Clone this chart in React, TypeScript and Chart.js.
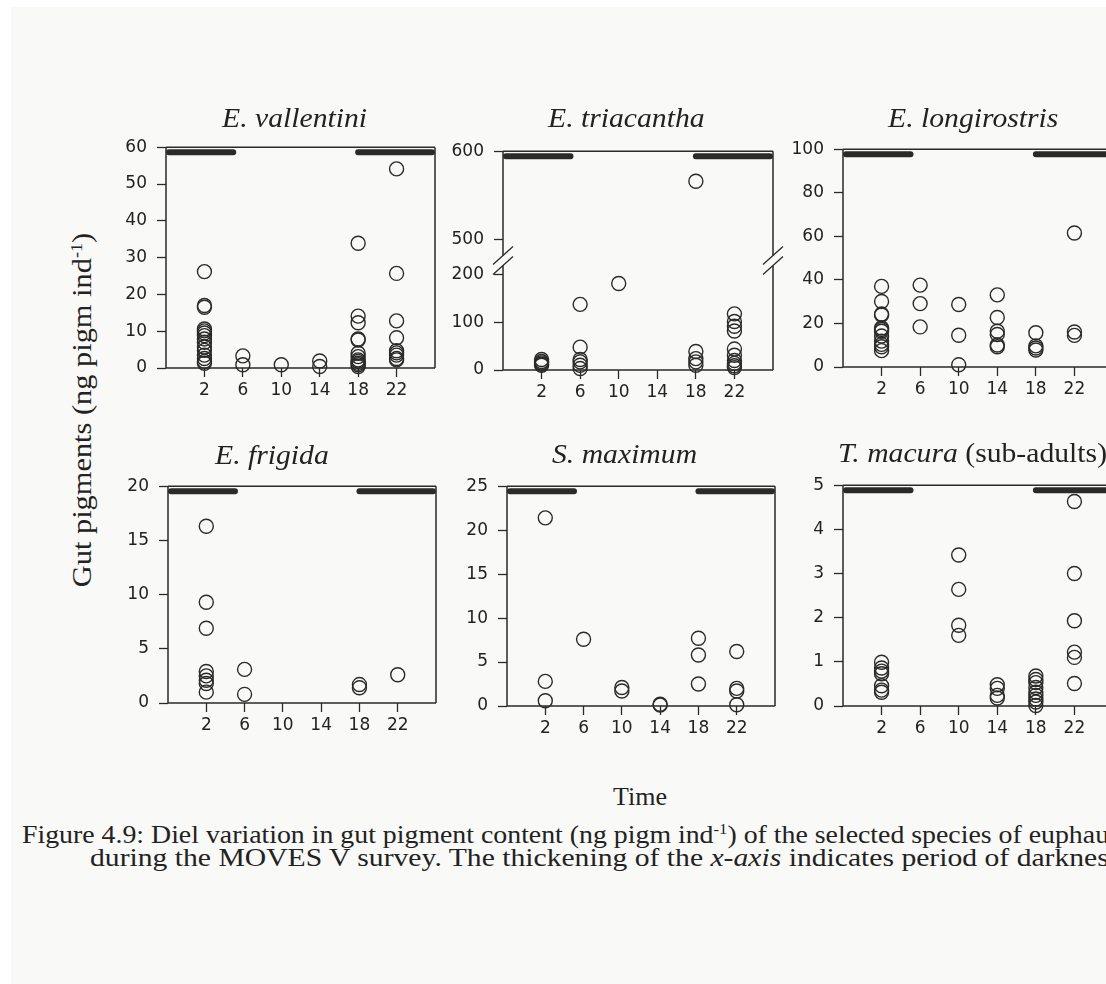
import React, { useEffect, useRef } from "react";
import { Chart, registerables } from "chart.js";

Chart.register(...registerables);

// ---------- data ----------
const hourTicks = [2, 6, 10, 14, 18, 22];
const hourMin = -2;
const hourMax = 26;
const nightStart = [-2, 18];
const nightEnd = [5, 26];

const vallentiniHour = [2, 2, 2, 2, 2, 2, 2, 2, 2, 2, 2, 2, 2, 2, 2, 6, 6, 10, 14, 14, 18, 18, 18, 18, 18, 18, 18, 18, 18, 18, 18, 18, 22, 22, 22, 22, 22, 22, 22, 22, 22];
const vallentiniGut = [26.2, 17.0, 16.5, 10.6, 10.1, 9.5, 8.8, 7.9, 7.0, 5.7, 4.8, 3.5, 2.6, 1.8, 1.3, 3.3, 0.9, 0.9, 1.9, 0.4, 33.9, 14.1, 12.3, 7.9, 7.6, 4.0, 3.1, 2.2, 1.8, 1.3, 0.9, 0.4, 54.1, 25.7, 12.8, 8.2, 4.7, 4.1, 3.5, 2.6, 2.2];
const vallentiniTicks = [0, 10, 20, 30, 40, 50, 60];

const triacanthaHour = [2, 2, 2, 2, 2, 6, 6, 6, 6, 6, 6, 10, 18, 18, 18, 18, 18, 22, 22, 22, 22, 22, 22, 22, 22, 22, 22];
const triacanthaGut = [22, 18, 15, 12, 10, 138, 48, 22, 17, 10, 3, 182, 566, 39, 24, 17, 10, 118, 102, 92, 82, 44, 31, 20, 14, 9, 5];
const triacanthaLowTicks = [0, 100, 200];
const triacanthaHighTicks = [500, 600];
const triacanthaLowRange = [0, 230];
const triacanthaHighRange = [476, 600];

const longirostrisHour = [2, 2, 2, 2, 2, 2, 2, 2, 2, 2, 2, 2, 6, 6, 6, 10, 10, 10, 14, 14, 14, 14, 14, 14, 18, 18, 18, 18, 22, 22, 22];
const longirostrisGut = [37, 30.1, 24.3, 23.9, 17.9, 17.2, 16.4, 14.2, 11.9, 10.4, 9.3, 7.5, 37.6, 29.1, 18.4, 28.7, 14.6, 1.0, 33.1, 22.7, 16.4, 14.9, 10.1, 9.3, 15.7, 9.7, 8.7, 7.8, 61.5, 16.1, 14.5];
const longirostrisTicks = [0, 20, 40, 60, 80, 100];

const frigidaHour = [2, 2, 2, 2, 2, 2, 2, 2, 6, 6, 18, 18, 22];
const frigidaGut = [16.3, 9.3, 6.9, 2.9, 2.5, 2.1, 1.8, 1.0, 3.1, 0.8, 1.7, 1.4, 2.6];
const frigidaTicks = [0, 5, 10, 15, 20];

const maximumHour = [2, 2, 2, 6, 10, 10, 14, 14, 18, 18, 18, 22, 22, 22, 22];
const maximumGut = [21.4, 2.8, 0.6, 7.6, 2.1, 1.7, 0.2, 0.1, 7.7, 5.8, 2.5, 6.2, 2.0, 1.7, 0.15];
const maximumTicks = [0, 5, 10, 15, 20, 25];

const macuraHour = [2, 2, 2, 2, 2, 2, 2, 10, 10, 10, 10, 14, 14, 14, 14, 18, 18, 18, 18, 18, 18, 18, 18, 18, 22, 22, 22, 22, 22, 22];
const macuraGut = [0.99, 0.86, 0.79, 0.73, 0.46, 0.36, 0.31, 3.42, 2.64, 1.83, 1.6, 0.48, 0.4, 0.24, 0.18, 0.68, 0.6, 0.53, 0.42, 0.31, 0.24, 0.16, 0.09, 0.01, 4.63, 3.0, 1.93, 1.22, 1.1, 0.51];
const macuraTicks = [0, 1, 2, 3, 4, 5];

// ---------- style / layout ----------
const INK = "#2a2a2a";
const TEXT = "#222";
const BG = "#f9f9f7";
const AX_W = 60;
const AX_H = 40;
const PAD_T = 14;
const PAD_R = 12;
const TICK_FONT = { family: "'DejaVu Sans', 'Liberation Sans', sans-serif", size: 17 };
const SERIF = "'Liberation Serif', 'Times New Roman', serif";

const toPoints = (hours: number[], gut: number[], keep?: (v: number) => boolean) =>
  hours
    .map((h, i) => ({ x: h, y: gut[i] }))
    .filter((p) => (keep ? keep(p.y) : true));

const framePlugin = {
  id: "frame",
  beforeDatasetsDraw(chart: any, _args: any, opts: any) {
    const { ctx, chartArea: a, scales } = chart;
    const brk = opts && opts.broken ? scales.yLow.top : null;
    ctx.save();
    ctx.strokeStyle = INK;
    ctx.lineWidth = 1.5;
    ctx.lineCap = "butt";
    ctx.beginPath();
    ctx.moveTo(a.left, a.top);
    ctx.lineTo(a.right, a.top);
    ctx.moveTo(a.left, a.bottom);
    ctx.lineTo(a.right, a.bottom);
    for (const x of [a.left, a.right]) {
      if (brk == null) {
        ctx.moveTo(x, a.top);
        ctx.lineTo(x, a.bottom);
      } else {
        ctx.moveTo(x, a.top);
        ctx.lineTo(x, brk - 5);
        ctx.moveTo(x, brk + 5);
        ctx.lineTo(x, a.bottom);
      }
    }
    ctx.stroke();
    if (brk != null) {
      ctx.lineWidth = 1.3;
      ctx.beginPath();
      for (const x of [a.left, a.right]) {
        for (const dy of [-5, 5]) {
          ctx.moveTo(x - 10, brk + dy + 9);
          ctx.lineTo(x + 10, brk + dy - 9);
        }
      }
      ctx.stroke();
    }
    const xs = scales.x;
    ctx.lineWidth = 6;
    ctx.lineCap = "round";
    ctx.beginPath();
    nightStart.forEach((s, i) => {
      const x0 = Math.max(xs.getPixelForValue(s), a.left + 3);
      const x1 = Math.min(xs.getPixelForValue(nightEnd[i]), a.right - 3);
      ctx.moveTo(x0, a.top + 5);
      ctx.lineTo(x1, a.top + 5);
    });
    ctx.stroke();
    ctx.restore();
  },
};

const gridOpts = {
  display: true,
  drawOnChartArea: false,
  drawTicks: true,
  tickLength: 9,
  tickWidth: 1.3,
  tickColor: INK,
};

function yScale(ticks: number[], min: number, max: number, extra: any = {}) {
  return {
    type: "linear",
    position: "left",
    min,
    max,
    afterBuildTicks: (s: any) => {
      s.ticks = ticks.map((v) => ({ value: v }));
    },
    afterFit: (s: any) => {
      s.width = AX_W;
    },
    grid: gridOpts,
    border: { display: false },
    ticks: { font: TICK_FONT, color: TEXT, padding: 10, autoSkip: false },
    ...extra,
  };
}

const xScale = {
  type: "linear",
  min: hourMin,
  max: hourMax,
  afterBuildTicks: (s: any) => {
    s.ticks = hourTicks.map((v) => ({ value: v }));
  },
  afterFit: (s: any) => {
    s.height = AX_H;
  },
  grid: gridOpts,
  border: { display: false },
  ticks: { font: TICK_FONT, color: TEXT, padding: 3, autoSkip: false, maxRotation: 0 },
};

const pointStyle = {
  pointRadius: 7,
  pointHoverRadius: 7,
  pointBorderWidth: 1.4,
  pointBorderColor: INK,
  pointBackgroundColor: "rgba(0,0,0,0)",
  showLine: false,
  clip: false,
};

type PanelSpec = {
  left: number;
  top: number;
  w: number;
  h: number;
  datasets: any[];
  scales: any;
  broken?: boolean;
};

const panels: PanelSpec[] = [
  {
    left: 166, top: 141, w: 269, h: 227,
    datasets: [{ data: toPoints(vallentiniHour, vallentiniGut), ...pointStyle }],
    scales: { x: xScale, y: yScale(vallentiniTicks, 0, 60) },
  },
  {
    left: 503, top: 145, w: 270, h: 225, broken: true,
    datasets: [
      { data: toPoints(triacanthaHour, triacanthaGut, (v) => v <= triacanthaLowRange[1]), yAxisID: "yLow", ...pointStyle },
      { data: toPoints(triacanthaHour, triacanthaGut, (v) => v > triacanthaLowRange[1]), yAxisID: "yHigh", ...pointStyle },
    ],
    scales: {
      x: xScale,
      yLow: yScale(triacanthaLowTicks, triacanthaLowRange[0], triacanthaLowRange[1], { stack: "tri", stackWeight: 1 }),
      yHigh: yScale(triacanthaHighTicks, triacanthaHighRange[0], triacanthaHighRange[1], { stack: "tri", stackWeight: 1 }),
    },
  },
  {
    left: 843, top: 143, w: 270, h: 224,
    datasets: [{ data: toPoints(longirostrisHour, longirostrisGut), ...pointStyle }],
    scales: { x: xScale, y: yScale(longirostrisTicks, 0, 100) },
  },
  {
    left: 168, top: 480, w: 268, h: 223,
    datasets: [{ data: toPoints(frigidaHour, frigidaGut), ...pointStyle }],
    scales: { x: xScale, y: yScale(frigidaTicks, 0, 20) },
  },
  {
    left: 507, top: 480, w: 268, h: 226,
    datasets: [{ data: toPoints(maximumHour, maximumGut), ...pointStyle }],
    scales: { x: xScale, y: yScale(maximumTicks, 0, 25) },
  },
  {
    left: 843, top: 479, w: 270, h: 227,
    datasets: [{ data: toPoints(macuraHour, macuraGut), ...pointStyle }],
    scales: { x: xScale, y: yScale(macuraTicks, 0, 5) },
  },
];

function Panel({ spec }: { spec: PanelSpec }) {
  const ref = useRef<HTMLCanvasElement>(null);
  const w = AX_W + spec.w + PAD_R;
  const h = PAD_T + spec.h + AX_H;
  useEffect(() => {
    if (!ref.current) return;
    const chart = new Chart(ref.current, {
      type: "scatter",
      data: { datasets: spec.datasets },
      options: {
        animation: false,
        responsive: false,
        maintainAspectRatio: false,
        events: [],
        layout: { padding: { top: PAD_T, right: PAD_R, left: 0, bottom: 0 } },
        plugins: {
          legend: { display: false },
          tooltip: { enabled: false },
          title: { display: false },
          frame: { broken: !!spec.broken },
        } as any,
        scales: spec.scales,
      } as any,
      plugins: [framePlugin as any],
    });
    return () => chart.destroy();
  }, []);
  return (
    <canvas
      ref={ref}
      width={w}
      height={h}
      style={{ position: "absolute", left: spec.left - AX_W, top: spec.top - PAD_T, width: w, height: h }}
    />
  );
}

const titleStyle = (left: number, baseline: number): React.CSSProperties => ({
  position: "absolute",
  left,
  top: baseline - 0.8375 * 28,
  fontFamily: SERIF,
  fontSize: 28,
  lineHeight: 1,
  fontStyle: "italic",
  color: TEXT,
  whiteSpace: "nowrap",
  transform: "scaleX(1.06)",
  transformOrigin: "left center",
});

const supStyle: React.CSSProperties = { fontSize: "0.6em", verticalAlign: "0.55em", lineHeight: 0 };

export default function App() {
  return (
    <div
      style={{
        position: "fixed",
        left: 0,
        top: 0,
        width: 1106,
        height: 984,
        overflow: "hidden",
        background: "#ffffff",
      }}
    >
      <div style={{ position: "absolute", left: 11, top: 7, right: 0, bottom: 0, background: BG }} />
      {panels.map((p, i) => (
        <Panel key={i} spec={p} />
      ))}
      <div style={titleStyle(222, 127)}>E. vallentini</div>
      <div style={titleStyle(548, 127)}>E. triacantha</div>
      <div style={titleStyle(888, 127)}>E. longirostris</div>
      <div style={titleStyle(215, 464)}>E. frigida</div>
      <div style={titleStyle(552, 463)}>S. maximum</div>
      <div style={titleStyle(838, 462)}>
        T. macura <span style={{ fontStyle: "normal" }}>(sub-adults)</span>
      </div>
      <div
        style={{
          position: "absolute",
          left: 82,
          top: 410,
          transform: "translate(-50%, -50%) rotate(-90deg) scaleX(1.085)",
          fontFamily: SERIF,
          fontSize: 28,
          lineHeight: 1,
          color: TEXT,
          whiteSpace: "nowrap",
        }}
      >
        Gut pigments (ng pigm ind<sup style={supStyle}>-1</sup>)
      </div>
      <div
        style={{
          position: "absolute",
          left: 640,
          top: 806 - 0.8375 * 26,
          transform: "translateX(-50%)",
          fontFamily: SERIF,
          fontSize: 26,
          lineHeight: 1,
          color: TEXT,
          whiteSpace: "nowrap",
        }}
      >
        Time
      </div>
      <div
        style={{
          position: "absolute",
          left: 22,
          top: 844 - 0.8375 * 26,
          fontFamily: SERIF,
          fontSize: 26,
          lineHeight: 1,
          color: TEXT,
          whiteSpace: "nowrap",
          transform: "scaleX(1.07)",
          transformOrigin: "left center",
        }}
      >
        Figure 4.9: Diel variation in gut pigment content (ng pigm ind
        <sup style={supStyle}>-1</sup>) of the selected species of euphausiids
      </div>
      <div
        style={{
          position: "absolute",
          left: 90,
          top: 867 - 0.8375 * 26,
          fontFamily: SERIF,
          fontSize: 26,
          lineHeight: 1,
          color: TEXT,
          whiteSpace: "nowrap",
          transform: "scaleX(1.14)",
          transformOrigin: "left center",
        }}
      >
        during the MOVES V survey. The thickening of the <i>x-axis</i> indicates period of darkness.
      </div>
    </div>
  );
}
